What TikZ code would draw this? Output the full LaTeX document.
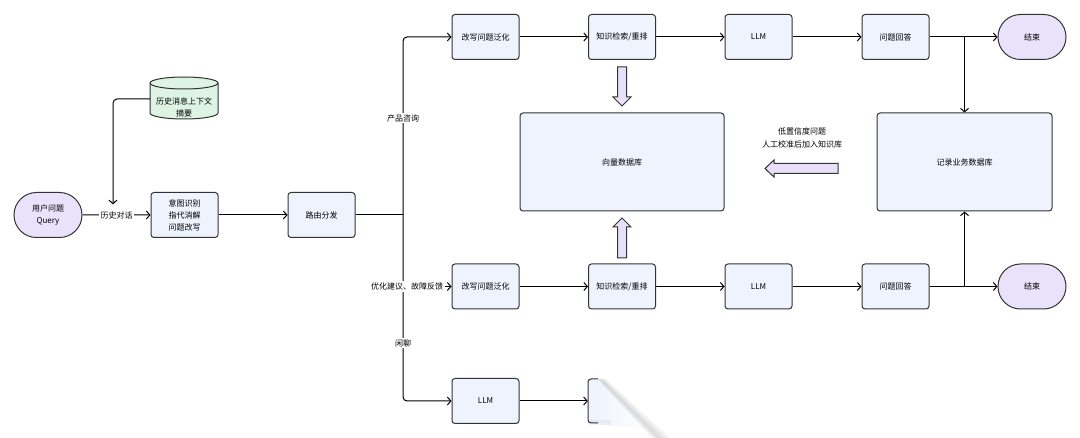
\documentclass[tikz,border=0pt]{standalone}
\usepackage{fontspec}
\setmainfont{Noto Sans CJK SC}
\usetikzlibrary{shapes.misc,arrows.meta,fadings}
\definecolor{boxfill}{HTML}{EEF3FD}
\definecolor{termfill}{HTML}{E9E2FB}
\definecolor{dbfill}{HTML}{DDF3E4}
\definecolor{fatfill}{HTML}{E8E0FA}
\definecolor{edge}{HTML}{333333}
\begin{document}
\begin{tikzpicture}[x=1pt,y=-1pt,
  font=\fontsize{8}{12}\selectfont,
  proc/.style={draw=edge, fill=boxfill, rounded corners=3pt, line width=1pt, minimum width=67pt, minimum height=45pt, inner sep=0pt, align=center},
  term/.style={draw=edge, fill=termfill, rounded rectangle, line width=1pt, minimum width=68pt, minimum height=45pt, inner sep=0pt, align=center},
  conn/.style={draw=black, line width=1pt, -{Straight Barb[length=3.5pt,width=8pt]}},
  plain/.style={draw=black, line width=1pt},
  lbl/.style={fill=white, inner sep=1.5pt},
  fat/.style={draw=edge, fill=fatfill, line width=1pt, line join=miter},
  shadowpart/.style={fill=gray, opacity=0.09},
]
\useasboundingbox (0,0) rectangle (1080,438);
\fill[white] (0,0) rectangle (1080,438);

% history cylinder
\path[fill=dbfill, draw=edge, line width=1pt] (150,83) -- (150,113) arc[start angle=180, end angle=0, x radius=34, y radius=6] -- (218,83) arc[start angle=0, end angle=-180, x radius=34, y radius=6] -- cycle;
\draw[edge, line width=1pt] (150,83) arc[start angle=180, end angle=0, x radius=34, y radius=6];
\node[align=center, inner sep=0pt] (hist) at (184,107.5) {历史消息上下文\\摘要};
\coordinate (hw) at (150,99);

% main nodes
\node[term] (q) at (48,215) {用户问题\\Query};
\node[proc] (intent) at (184.5,215) {意图识别\\指代消解\\问题改写};
\node[proc] (route) at (321.5,215) {路由分发};

\node[proc] (rw1) at (485.5,37) {改写问题泛化};
\node[proc] (kr1) at (622,37) {知识检索/重排};
\node[proc] (llm1) at (758.5,37) {LLM};
\node[proc] (ans1) at (895.5,37) {问题回答};
\node[term] (end1) at (1032,37) {结束};

\node[proc] (rw2) at (485.5,286.5) {改写问题泛化};
\node[proc] (kr2) at (622,286.5) {知识检索/重排};
\node[proc] (llm2) at (758.5,286.5) {LLM};
\node[proc] (ans2) at (895.5,286.5) {问题回答};
\node[term] (end2) at (1032,286.5) {结束};

\node[proc] (chat1) at (485.5,401) {LLM};
\node[minimum width=68pt, minimum height=44pt, inner sep=0pt] (chat2) at (622,401) {};

\node[proc, minimum width=204pt, minimum height=98pt] (vec) at (622,162) {向量数据库};
\node[proc, minimum width=175pt, minimum height=98pt] (rec) at (964.5,162) {记录业务数据库};

\node[align=center, font=\fontsize{8}{13}\selectfont, inner sep=0pt] (note) at (802,137.5) {低置信度问题\\人工校准后加入知识库};

% faded partial box (page-curl look)
\shade[left color=boxfill, right color=white] (589,380) -- (603,380) -- (652,430) -- (589,423) -- cycle;
\fill[shadowpart] (597,379) -- (606,379) -- (670,438) -- (652,438) -- cycle;
\fill[shadowpart] (598,379) -- (604,379) -- (666,438) -- (655,438) -- cycle;
\fill[shadowpart] (599,379) -- (602,379) -- (662,438) -- (657,438) -- cycle;
\fill[shadowpart] (589,420) -- (610,420) -- (612,425) -- (589,425) -- cycle;
\draw[edge, line width=1pt, rounded corners=3pt] (598,379) -- (588,379) -- (588,423) -- (598,423);

% connectors
\draw[conn] (q) -- node[lbl] (hd) {历史对话} (intent);
\draw[conn, rounded corners=4pt] (hw) -- (113,99) -- ([yshift=5pt]hd.north -| 113,0);
\draw[conn] (intent) -- (route);

\coordinate (br) at (403,215);
\draw[plain] (route) -- (br);
\draw[conn, rounded corners=4pt] (br) -- (br |- rw1) -- (rw1);
\draw[conn, rounded corners=4pt] (br) -- (br |- chat1) -- (chat1);
\draw[conn] (br |- rw2) -- (rw2);
\node[lbl] (l1) at (403,118) {产品咨询};
\node[lbl] (l2) at (407,286.5) {优化建议、故障反馈};
\node[lbl] (l3) at (403,343) {闲聊};

\draw[conn] (rw1) -- (kr1);
\draw[conn] (kr1) -- (llm1);
\draw[conn] (llm1) -- (ans1);
\draw[conn] (ans1) -- (end1);
\draw[conn] (ans1 -| rec) -- (rec);

\draw[conn] (rw2) -- (kr2);
\draw[conn] (kr2) -- (llm2);
\draw[conn] (llm2) -- (ans2);
\draw[conn] (ans2) -- (end2);
\draw[conn] (ans2 -| rec) -- (rec);

\draw[conn] (chat1) -- (chat2);

% fat arrows
\draw[fat] (617.5,67) -- (626.5,67) -- (626.5,97) -- (631,97) -- (622,106) -- (613,97) -- (617.5,97) -- cycle;
\draw[fat] (617.5,258) -- (626.5,258) -- (626.5,227) -- (631,227) -- (622,218) -- (613,227) -- (617.5,227) -- cycle;
\draw[fat] (838,163.5) -- (838,173.5) -- (774,173.5) -- (774,177) -- (765,168.5) -- (774,160) -- (774,163.5) -- cycle;
\end{tikzpicture}
\end{document}
